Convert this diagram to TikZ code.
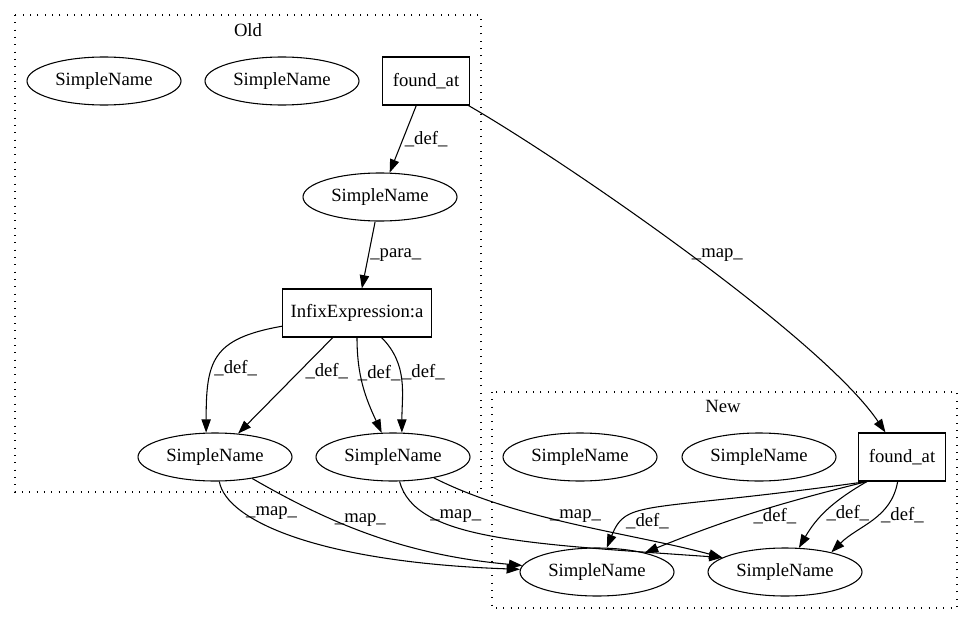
\documentclass[tikz,border=0pt]{standalone}
\usepackage{fontspec}
\setmainfont{Liberation Serif}
\usetikzlibrary{arrows.meta,shapes.geometric,positioning}

\tikzset{
  sname/.style={draw, ellipse, minimum width=115.5pt, minimum height=36pt, inner sep=0pt},
  sbox/.style={draw, rectangle, minimum height=36pt, inner sep=0pt},
  lbl/.style={inner sep=1pt},
  cluster/.style={draw, -, line width=0.8pt, dash pattern=on 0.8pt off 4.7pt},
}

\begin{document}
\begin{tikzpicture}[->, >={Triangle[length=10pt,width=7pt]}, line width=0.8pt,
 x=0.75pt, y=-0.75pt, font=\fontsize{14}{16}\selectfont]
\useasboundingbox (0,0) rectangle (973,624);
% clusters
\draw[cluster] (15,15) rectangle (481,492);
\node (oldname) at (248,30) {Old};
\draw[cluster] (492,392) rectangle (957,608);
\node (newname) at (723,406) {New};
% old
\node[sname] (os1) at (104,81) {SimpleName};
\node[sname] (os2) at (282,81) {SimpleName};
\node[sbox, minimum width=65.25pt] (ofound) at (426,81) {found\_at};
\node[sname] (os3) at (380,197) {SimpleName};
\node[sbox, minimum width=111.75pt] (oinfix) at (357,313) {InfixExpression:a};
\node[sname] (os4) at (215,457) {SimpleName};
\node[sname] (os5) at (393,457) {SimpleName};
% new
\node[sname] (ns1) at (580,457) {SimpleName};
\node[sname] (ns2) at (759,457) {SimpleName};
\node[sbox, minimum width=65.25pt] (nfound) at (902,457) {found\_at};
\node[sname] (ns3) at (597,572) {SimpleName};
\node[sname] (ns4) at (785,572) {SimpleName};

\path (ofound) edge node[lbl, pos=.5, anchor=west] {\_def\_} (os3);
\path (os3) edge node[lbl, pos=.5, anchor=west] {\_para\_} (oinfix);
\path (ofound) edge[out=-30, in=124, looseness=.55] node[lbl, pos=.5, anchor=west] {\_map\_} (nfound);
\path (oinfix) edge[out=190, in=90, looseness=1.4] node[lbl, pos=.6, anchor=west] {\_def\_} (os4.110);
\path (oinfix) edge node[lbl, pos=.35, anchor=west, xshift=3pt] {\_def\_} (os4);
\path (oinfix) edge[out=-90, in=115] node[lbl, pos=.35, anchor=west, xshift=-3pt] {\_def\_} (os5);
\path (oinfix) edge[out=-45, in=90] node[lbl, pos=.4, anchor=west] {\_def\_} (os5.70);
% old -> new
\path (os4) edge[out=-80, in=178, out distance=30pt, in distance=150pt] node[lbl, pos=.27, anchor=west] {\_map\_} (ns3);
\path (os4) edge[out=-30, in=175, out distance=65pt, in distance=90pt] node[lbl, pos=.35, anchor=west] {\_map\_} (ns3);
\path (os5) edge[out=-75, in=176, out distance=45pt, in distance=150pt] node[lbl, pos=.25, anchor=west] {\_map\_} (ns4.167);
\path (os5) edge[out=-27, in=165, looseness=.8] node[lbl, pos=.5, anchor=south] {\_map\_} (ns4.167);
% new
\path (nfound.-145) edge[out=188, in=68, out distance=170pt, in distance=40pt] node[lbl, pos=.75, anchor=west] {\_def\_} (ns3);
\path (nfound.-145) edge[out=194, in=22] node[lbl, pos=.4, anchor=north] {\_def\_} (ns3);
\path (nfound.-145) edge[out=210, in=60] node[lbl, pos=.55, anchor=west] {\_def\_} (ns4);
\path (nfound) edge[out=-100, in=45] node[lbl, pos=.4, anchor=west] {\_def\_} (ns4.23);
\end{tikzpicture}
\end{document}
